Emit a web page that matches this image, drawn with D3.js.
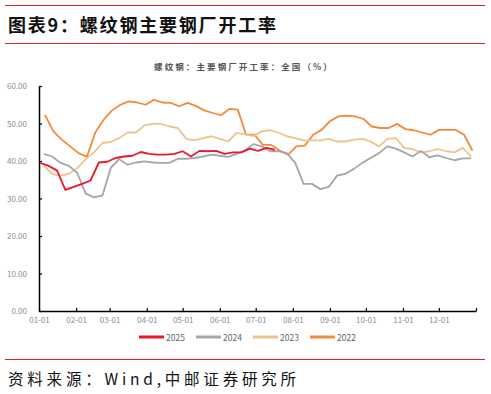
<!DOCTYPE html>
<html>
<head>
<meta charset="utf-8">
<script src="https://cdn.jsdelivr.net/npm/d3@7"></script>
<style>
  body { margin: 0; background: #fff; }
  text { font-family: "Noto Sans CJK SC", "Noto Sans", sans-serif; }
</style>
</head>
<body>
<div class="canvas"></div>
<script>
// data (weekly values, %)
const seriesNames = ["2025", "2024", "2023", "2022"];
const seriesColors = ["#e8192c", "#a6a6a6", "#edc48e", "#f5893a"];
// first week of each series, as month-day
const startDays = ["01-02", "01-05", "01-05", "01-06"];

const values2025 = [39.5, 38.7, 37.5, 32.3, 33.1, 33.9, 34.8, 39.6, 39.8, 40.8, 41.2, 41.4, 42.4, 41.9,
  41.7, 41.7, 41.9, 42.6, 41.2, 42.7, 42.6, 42.7, 41.9, 42.3, 42.3, 43.3, 42.7, 43.5, 43.0];
const values2024 = [41.9, 41.2, 39.5, 38.7, 36.8, 31.3, 30.3, 30.8, 38.2, 40.5, 39.0, 39.6, 39.9, 39.6,
  39.5, 39.5, 40.6, 40.6, 40.8, 41.2, 41.7, 41.4, 41.1, 41.9, 42.8, 44.5, 43.9, 42.6, 42.6, 42.1,
  39.5, 33.9, 33.9, 32.5, 33.1, 36.1, 36.6, 37.9, 39.5, 40.8, 42.1, 43.9, 43.3, 42.3, 41.2, 42.7,
  41.0, 41.5, 40.8, 40.2, 40.7, 40.7];
const values2023 = [38.7, 36.5, 36.1, 36.6, 38.1, 40.5, 42.3, 44.8, 45.1, 46.1, 47.6, 47.6, 49.5, 49.9,
  49.9, 49.2, 48.8, 45.9, 45.5, 46.1, 46.6, 45.9, 45.2, 47.5, 47.1, 46.7, 47.9, 48.2, 47.6, 46.6,
  46.1, 45.5, 45.5, 45.5, 45.9, 45.2, 45.2, 45.7, 45.9, 45.2, 43.9, 45.9, 46.1, 43.5, 43.2, 42.3,
  42.6, 43.2, 42.6, 42.3, 43.5, 41.1];
const values2022 = [52.3, 47.9, 45.7, 43.9, 42.1, 41.1, 47.6, 51.0, 53.5, 55.0, 55.9, 55.6, 55.0, 56.3,
  55.6, 55.5, 54.6, 55.5, 54.7, 53.5, 52.8, 52.2, 53.9, 53.7, 47.0, 47.0, 44.3, 44.3, 42.8, 41.7,
  43.9, 44.1, 47.0, 48.3, 50.6, 51.9, 52.1, 51.9, 51.2, 49.2, 48.8, 48.8, 49.9, 48.5, 48.2, 47.6,
  47.0, 48.3, 48.3, 48.3, 47.0, 42.8];
const seriesValues = [values2025, values2024, values2023, values2022];

const yTicks = [0, 10, 20, 30, 40, 50, 60];
const monthLabels = ["01-01", "02-01", "03-01", "04-01", "05-01", "06-01",
  "07-01", "08-01", "09-01", "10-01", "11-01", "12-01"];

const title = "图表9：螺纹钢主要钢厂开工率";
const subtitle = "螺纹钢：主要钢厂开工率：全国（%）";
const source = "资料来源：Wind,中邮证券研究所";

// layout
const width = 491;
const height = 394;
const margin = { top: 86, right: 15, bottom: 83, left: 39 };
const graphWidth = width - margin.left - margin.right;
const graphHeight = height - margin.top - margin.bottom;

const svg = d3
  .select(".canvas")
  .append("svg")
  .attr("width", width)
  .attr("height", height);

// red rules and headings
const red = "#d8262c";
[5.5, 43.5, 359.5].forEach(y => {
  svg.append("line")
    .attr("x1", 5).attr("x2", 485)
    .attr("y1", y).attr("y2", y)
    .attr("stroke", red).attr("stroke-width", 1.2);
});

svg.append("text")
  .attr("x", 8).attr("y", 32)
  .attr("font-size", 18).attr("font-weight", 700)
  .attr("letter-spacing", 1.8)
  .attr("fill", "#111")
  .text(title);

svg.append("text")
  .attr("x", 244).attr("y", 70)
  .attr("text-anchor", "middle")
  .attr("font-size", 8.5).attr("font-weight", 700)
  .attr("letter-spacing", 2.1)
  .attr("fill", "#555")
  .text(subtitle);

svg.append("text")
  .attr("x", 8).attr("y", 385)
  .attr("font-size", 15.5)
  .attr("letter-spacing", 3.8)
  .attr("fill", "#111")
  .text(source);

const graph = svg
  .append("g")
  .attr("transform", `translate(${margin.left}, ${margin.top})`);

// scales: every year is drawn on one common (non-leap) calendar
const parseDay = d3.timeParse("%Y-%m-%d");
const baseYear = 2023;
const x = d3.scaleTime()
  .domain([new Date(baseYear, 0, 1), new Date(baseYear + 1, 0, 1)])
  .range([0, graphWidth]);
const y = d3.scaleLinear().domain([0, 60]).range([graphHeight, 0]);

// axes
const monthTicks = d3.timeMonth.range(new Date(baseYear, 0, 1), new Date(baseYear + 1, 0, 2));
const xAxis = d3.axisBottom(x)
  .tickValues(monthTicks)
  .tickSizeInner(-3)
  .tickSizeOuter(0)
  .tickPadding(6)
  .tickFormat((d, i) => monthLabels[i] || "");
const yAxis = d3.axisLeft(y)
  .tickValues(yTicks)
  .tickSizeInner(-3)
  .tickSizeOuter(0)
  .tickPadding(12)
  .tickFormat(d3.format(".2f"));

const xAxisGroup = graph.append("g")
  .attr("transform", `translate(0, ${graphHeight})`)
  .call(xAxis);
const yAxisGroup = graph.append("g").call(yAxis);

[xAxisGroup, yAxisGroup].forEach(g => {
  g.select(".domain").attr("stroke", "#000").attr("stroke-width", 1.5);
  g.selectAll(".tick line").attr("stroke", "#000").attr("stroke-width", 1.2);
  g.selectAll("text")
    .attr("fill", "#8c8c8c")
    .attr("font-size", 8)
    .attr("font-family", "Liberation Mono, DejaVu Sans Mono, monospace");
});
yAxisGroup.selectAll("text").attr("dy", "0.32em");

// line generator
const line = d3.line()
  .x(d => x(d.date))
  .y(d => y(d.value));

const seriesData = seriesNames.map((name, i) => {
  const start = parseDay(`${baseYear}-${startDays[i]}`);
  return {
    name,
    color: seriesColors[i],
    points: seriesValues[i].map((v, k) => ({ date: d3.timeDay.offset(start, 7 * k), value: v }))
  };
});

// draw older years first so 2025 sits on top
seriesData.slice().reverse().forEach(s => {
  graph.append("path")
    .datum(s.points)
    .attr("fill", "none")
    .attr("stroke", s.color)
    .attr("stroke-width", 1.8)
    .attr("stroke-linejoin", "round")
    .attr("d", line);
});

// legend
const legend = svg.append("g").attr("transform", "translate(139, 337)");
seriesData.forEach((s, i) => {
  const item = legend.append("g").attr("transform", `translate(${i * 57}, 0)`);
  item.append("line")
    .attr("x1", 0).attr("x2", 25)
    .attr("stroke", s.color).attr("stroke-width", 3);
  item.append("text")
    .attr("x", 27).attr("y", 3.5)
    .attr("font-size", 8.5)
    .attr("fill", "#666")
    .attr("font-family", "Liberation Sans, Arial, sans-serif")
    .text(s.name);
});
</script>
</body>
</html>
